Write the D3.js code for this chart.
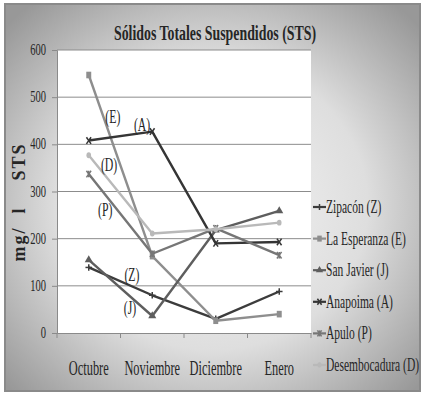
<!DOCTYPE html>
<html>
<head>
<meta charset="utf-8">
<script src="https://cdn.jsdelivr.net/npm/d3@7"></script>
<style>
  html, body { margin: 0; padding: 0; background: #ffffff; }
  svg { display: block; }
</style>
</head>
<body>
<svg id="chart" width="425" height="395"></svg>
<script>
// Months sampled
const categories = ["Octubre", "Noviembre", "Diciembre", "Enero"];

// Suspended solids per station (mg/l)
const zipacon       = [139, 80, 30, 88];
const laEsperanza   = [547, 163, 26, 40];
const sanJavier     = [155, 36, 218, 259];
const anapoima      = [408, 427, 190, 193];
const apulo         = [337, 168, 222, 165];
const desembocadura = [377, 211, 220, 234];

const seriesNames = ["Zipacón (Z)", "La Esperanza (E)", "San Javier (J)", "Anapoima (A)", "Apulo (P)", "Desembocadura (D)"];
const seriesValues = [zipacon, laEsperanza, sanJavier, anapoima, apulo, desembocadura];

const yTicks = [0, 100, 200, 300, 400, 500, 600];

// Station tags written beside the lines: text, month offset, value
const tagText  = ["(E)", "(A)", "(D)", "(P)", "(Z)", "(J)"];
const tagMonth = [0.38, 0.84, 0.32, 0.26, 0.68, 0.65];
const tagValue = [458, 441, 356, 261, 123, 53];

const colors  = ["#3c3c3c", "#8e8e8e", "#5e5e5e", "#353535", "#767676", "#b9b9b9"];
const markers = ["plus", "square", "triangle", "cross", "star", "circle"];

const SERIF = "Liberation Serif";
const SX = 0.66; // horizontal squeeze of the serif lettering

const svg = d3.select("#chart");
const W = 425, H = 395;
const plot = { left: 57, right: 311, top: 50, bottom: 333 };

// Background frame with soft vignette
const defs = svg.append("defs");
const rg = defs.append("radialGradient").attr("id", "bg")
  .attr("cx", "50%").attr("cy", "52%").attr("r", "68%");
rg.append("stop").attr("offset", "0%").attr("stop-color", "#f6f6f6");
rg.append("stop").attr("offset", "55%").attr("stop-color", "#dedede");
rg.append("stop").attr("offset", "100%").attr("stop-color", "#989898");

svg.append("rect").attr("x", 0).attr("y", 0).attr("width", W).attr("height", H).attr("fill", "#ffffff");
svg.append("rect").attr("x", 5).attr("y", 4).attr("width", 415).attr("height", 387)
  .attr("fill", "url(#bg)").attr("stroke", "#8a8a8a").attr("stroke-width", 2);

const x = d3.scaleBand().domain(categories).range([plot.left, plot.right]);
const y = d3.scaleLinear().domain([0, 600]).range([plot.bottom, plot.top]);
const xc = i => x(categories[0]) + x.bandwidth() * (i + 0.5);

svg.append("rect").attr("x", plot.left).attr("y", plot.top)
  .attr("width", plot.right - plot.left).attr("height", plot.bottom - plot.top)
  .attr("fill", "#ffffff");

// Horizontal gridlines
svg.append("g").selectAll("line").data(yTicks.filter(d => d > 0)).join("line")
  .attr("x1", plot.left).attr("x2", plot.right)
  .attr("y1", d => y(d)).attr("y2", d => y(d))
  .attr("stroke", "#8c8c8c").attr("stroke-width", 1);

// Squeezed serif text helper
function label(g, tx, ty, str, opts = {}) {
  return g.append("text")
    .attr("transform", `translate(${tx},${ty}) scale(${opts.sx || SX},1)`)
    .attr("text-anchor", opts.anchor || "start")
    .attr("font-family", SERIF)
    .attr("font-size", opts.size || 17)
    .attr("font-weight", opts.weight || "normal")
    .attr("fill", opts.fill || "#262626")
    .text(str);
}

// Y axis
const yAxis = d3.axisLeft(y).tickValues(yTicks).tickSize(5).tickFormat("");
const gy = svg.append("g").attr("transform", `translate(${plot.left},0)`).call(yAxis);
gy.selectAll("path, line").attr("stroke", "#8a8a8a");
yTicks.forEach(t => label(svg, 46, y(t) + 5, String(t), { anchor: "end", size: 17, sx: 0.62 }));

// X axis with ticks on the band edges
const xAxis = d3.axisBottom(x).tickSize(0).tickFormat("");
const gx = svg.append("g").attr("transform", `translate(0,${plot.bottom})`).call(xAxis);
gx.select("path").attr("stroke", "#8a8a8a");
const edges = categories.map(c => x(c)).concat([plot.right]);
svg.append("g").selectAll("line").data(edges).join("line")
  .attr("x1", d => d).attr("x2", d => d)
  .attr("y1", plot.bottom).attr("y2", plot.bottom + 5)
  .attr("stroke", "#8a8a8a");
categories.forEach((c, i) => label(svg, xc(i), 375, c, { anchor: "middle", size: 20, sx: 0.62 }));

// Title
label(svg, 215, 40, "Sólidos Totales Suspendidos (STS)", { anchor: "middle", size: 21, weight: "bold", sx: 0.66 });

// Y axis title
svg.append("text")
  .attr("transform", "translate(25,202) rotate(-90)")
  .attr("text-anchor", "middle")
  .attr("font-family", SERIF)
  .attr("font-size", 18).attr("font-weight", "bold")
  .attr("fill", "#262626")
  .style("white-space", "pre")
  .style("letter-spacing", "2px")
  .text("mg/  l    STS");

// Marker symbols
function drawMarker(g, kind, cx, cy, color, s) {
  const m = g.append("g").attr("transform", `translate(${cx},${cy})`);
  const line = (x1, y1, x2, y2) => m.append("line").attr("x1", x1).attr("y1", y1).attr("x2", x2).attr("y2", y2)
    .attr("stroke", color).attr("stroke-width", 1.5);
  if (kind === "plus") { line(-s, 0, s, 0); line(0, -s, 0, s); }
  else if (kind === "square") m.append("rect").attr("x", -s * 0.75).attr("y", -s).attr("width", s * 1.5).attr("height", s * 2).attr("fill", color);
  else if (kind === "triangle") m.append("path").attr("d", d3.symbol(d3.symbolTriangle, s * s * 2.6)()).attr("fill", color);
  else if (kind === "cross") { line(-s * 0.7, -s, s * 0.7, s); line(-s * 0.7, s, s * 0.7, -s); }
  else if (kind === "star") { line(-s * 0.7, -s, s * 0.7, s); line(-s * 0.7, s, s * 0.7, -s); line(0, -s, 0, s); }
  else if (kind === "circle") m.append("ellipse").attr("rx", s * 0.7).attr("ry", s * 0.9).attr("fill", color);
}

// Series lines
const lineGen = d3.line().x((d, i) => xc(i)).y(d => y(d));
const gLines = svg.append("g");
seriesValues.forEach((vals, k) => {
  gLines.append("path").datum(vals).attr("d", lineGen)
    .attr("fill", "none").attr("stroke", colors[k]).attr("stroke-width", 2.4)
    .attr("stroke-linejoin", "round");
  vals.forEach((v, i) => drawMarker(gLines, markers[k], xc(i), y(v), colors[k], 3.3));
});

// Station tags
tagText.forEach((t, i) => {
  const px = xc(0) + tagMonth[i] * x.bandwidth();
  label(svg, px, y(tagValue[i]) + 6, t, { anchor: "middle", size: 19, sx: 0.62 });
});

// Legend
const legY0 = 207, legStep = 31.6;
seriesNames.forEach((n, k) => {
  const ly = legY0 + k * legStep;
  svg.append("line").attr("x1", 313).attr("x2", 326).attr("y1", ly).attr("y2", ly)
    .attr("stroke", colors[k]).attr("stroke-width", 2.2);
  drawMarker(svg, markers[k], 319.5, ly, colors[k], 3);
  label(svg, 326, ly + 6, n, { size: 18, sx: 0.64 });
});
</script>
</body>
</html>
